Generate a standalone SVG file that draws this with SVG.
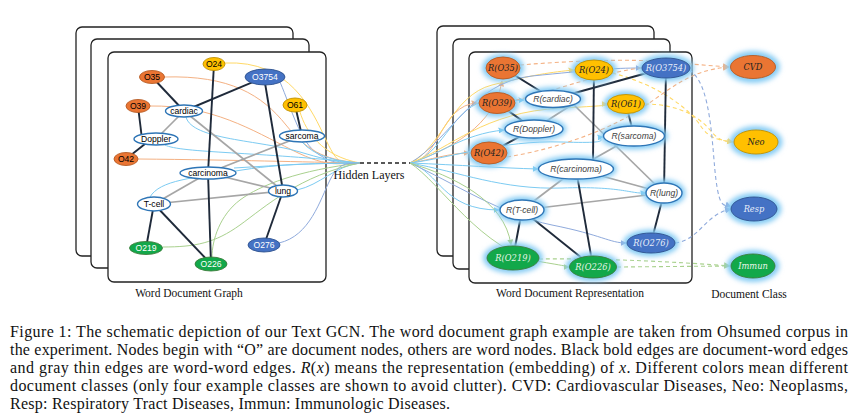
<svg xmlns="http://www.w3.org/2000/svg" width="862" height="419" viewBox="0 0 862 419">
<style>
.panel{fill:#fff;stroke:#222;stroke-width:1.3}
.lbl{font-family:"Liberation Serif","Times New Roman",serif;font-size:11.5px;fill:#111;text-anchor:middle}
.cap{font-family:"Liberation Serif","Times New Roman",serif;font-size:16px;fill:#111}
.t{font-family:"Liberation Sans",Arial,sans-serif;font-size:8.6px;text-anchor:middle;dominant-baseline:central}
.ti{font-family:"DejaVu Serif",serif;font-style:italic;font-size:8.3px;text-anchor:middle;dominant-baseline:central}
.tw{font-family:"Liberation Sans",Arial,sans-serif;font-style:italic;font-size:8.6px;text-anchor:middle;dominant-baseline:central;fill:#404040}
.or{fill:#ea7533;stroke:#b55a22;stroke-width:0.9}
.ye{fill:#ffc000;stroke:#bf9000;stroke-width:0.9}
.bl{fill:#4472c4;stroke:#2f528f;stroke-width:0.9}
.gr{fill:#12a84a;stroke:#3c7d3a;stroke-width:0.9}
.wd{fill:#fff;stroke:#2e75b6;stroke-width:1.4}
.gl{fill:#86ccf4;filter:url(#glow)}
.be{stroke:#1f2a3a;stroke-width:1.9;fill:none}
.ge{stroke:#a6a6a6;stroke-width:1.7;fill:none}
.c{fill:none;stroke-width:1}
.co{stroke:#f4b183}.cy{stroke:#ffd966}.cb{stroke:#8faadc}.cc{stroke:#7ccbf2}.cg{stroke:#a9d18e}
.d{fill:none;stroke-width:1.1;stroke-dasharray:4 3}
</style>
<defs>
<filter id="glow" x="-50%" y="-80%" width="200%" height="260%"><feGaussianBlur stdDeviation="2.4"/></filter>
<marker id="mo" viewBox="0 0 10 10" refX="9" refY="5" markerWidth="6" markerHeight="6" orient="auto"><path d="M0,0L10,5L0,10z" fill="#f4b183"/></marker>
<marker id="my" viewBox="0 0 10 10" refX="9" refY="5" markerWidth="6" markerHeight="6" orient="auto"><path d="M0,0L10,5L0,10z" fill="#ffd966"/></marker>
<marker id="mb" viewBox="0 0 10 10" refX="9" refY="5" markerWidth="6" markerHeight="6" orient="auto"><path d="M0,0L10,5L0,10z" fill="#8faadc"/></marker>
<marker id="mc" viewBox="0 0 10 10" refX="9" refY="5" markerWidth="6" markerHeight="6" orient="auto"><path d="M0,0L10,5L0,10z" fill="#7ccbf2"/></marker>
<marker id="mg" viewBox="0 0 10 10" refX="9" refY="5" markerWidth="6" markerHeight="6" orient="auto"><path d="M0,0L10,5L0,10z" fill="#a9d18e"/></marker>
</defs>
<rect width="862" height="419" fill="#fff"/>

<g id="panels">
<rect class="panel" x="76" y="27" width="217" height="229" rx="6"/>
<rect class="panel" x="91" y="39" width="218" height="229" rx="6"/>
<rect class="panel" x="108" y="52" width="218" height="230" rx="6"/>
<rect class="panel" x="437" y="26" width="217" height="230" rx="6"/>
<rect class="panel" x="453" y="39" width="217" height="230" rx="6"/>
<rect class="panel" x="469" y="52" width="223" height="231" rx="6"/>
</g>

<g id="connectors">
<path class="c cy" d="M225,63 C290,60 312,110 326,140 S345,163 360,163"/>
<path class="c cy" d="M300,112 C306,132 322,156 360,163"/>
<path class="c cb" d="M280,82 C292,110 300,142 318,154 S345,163 360,163"/>
<path class="c co" d="M164,77 C230,75 262,95 286,125 S330,160 360,163"/>
<path class="c co" d="M150,106 C212,105 252,130 292,150 S340,162 360,163"/>
<path class="c co" d="M138,159 C240,160 300,162 360,163"/>
<path class="c cc" d="M186,117 C192,140 260,140 300,152 S345,162 360,163"/>
<path class="c cc" d="M165,145 C180,153 262,152 360,163"/>
<path class="c cc" d="M302,142 C314,156 338,162 360,163"/>
<path class="c cc" d="M234,168 C282,165 320,163 360,163"/>
<path class="c cc" d="M150,197 C160,180 192,178 242,170 S330,164 360,163"/>
<path class="c cc" d="M297,190 C320,185 335,166 360,163"/>
<path class="c cg" d="M163,247 C195,247 215,243 240,225 S300,175 360,163"/>
<path class="c cg" d="M212,257 C212,240 220,215 240,200 S300,170 360,163"/>
<path class="c cb" d="M279,243 C310,236 320,200 330,180 S350,164 360,163"/>
<path d="M360,163 L410,163" stroke="#222" stroke-width="1.3" stroke-dasharray="4 3" fill="none"/>
<path class="c co" d="M410,163 C450,150 495,125 502,81" marker-end="url(#mo)"/>
<path class="c co" d="M410,163 C440,160 440,105 477,103" marker-end="url(#mo)"/>
<path class="c co" d="M410,163 C430,160 450,153 469,153" marker-end="url(#mo)"/>
<path class="c cc" d="M410,163 C440,158 452,110 482,102 L524,100" marker-end="url(#mc)"/>
<path class="c cy" d="M410,163 C440,150 452,95 492,85 S552,72 574,70" marker-end="url(#my)"/>
<path class="c cc" d="M410,163 C440,155 462,134 504,130" marker-end="url(#mc)"/>
<path class="c cb" d="M410,163 C450,140 472,82 532,76 S612,68 641,68" marker-end="url(#mb)"/>
<path class="c cy" d="M410,163 C452,148 482,112 562,108 S596,104 607,104" marker-end="url(#my)"/>
<path class="c cc" d="M410,163 C450,158 502,140 562,142 S592,138 603,137" marker-end="url(#mc)"/>
<path class="c cc" d="M410,163 C460,165 500,168 538,169" marker-end="url(#mc)"/>
<path class="c cc" d="M410,163 C460,172 502,190 562,188 S630,194 646,193" marker-end="url(#mc)"/>
<path class="c cc" d="M410,163 C440,172 442,210 499,210" marker-end="url(#mc)"/>
<path class="c cb" d="M410,163 C452,182 502,215 552,225 S610,243 626,243" marker-end="url(#mb)"/>
<path class="c cg" d="M410,163 C452,176 505,200 511,245" marker-end="url(#mg)"/>
<path class="c cg" d="M410,163 C440,182 482,252 542,262 S560,267 569,267" marker-end="url(#mg)"/>
<path class="d co" d="M520,65 C580,60 650,58 690,64 L729,67" marker-end="url(#mo)"/>
<path class="d co" d="M516,100 C562,90 622,62 690,65"/>
<path class="d co" d="M507,157 C562,148 612,128 642,108 S690,70 729,67" marker-end="url(#mo)"/>
<path class="d cy" d="M612,73 C660,85 690,110 700,125 S720,140 733,142" marker-end="url(#my)"/>
<path class="d cy" d="M645,104 C680,104 700,118 710,130 S725,141 733,142"/>
<path class="d cb" d="M689,70 C712,82 712,150 716,180 S724,204 731,207" marker-end="url(#mb)"/>
<path class="d cb" d="M675,243 C700,240 705,214 731,209" marker-end="url(#mb)"/>
<path class="d cg" d="M539,259 C600,258 680,262 730,266" marker-end="url(#mg)"/>
<path class="d cg" d="M617,267 L730,266"/>
<line class="ge" x1="184" y1="111" x2="156" y2="139"/>
<line class="ge" x1="184" y1="111" x2="283" y2="191"/>
<line class="ge" x1="302" y1="136" x2="208" y2="173"/>
<line class="ge" x1="208" y1="173" x2="283" y2="191"/>
<line class="ge" x1="208" y1="173" x2="154" y2="204"/>
<line class="ge" x1="154" y1="204" x2="283" y2="191"/>
<line class="be" x1="152" y1="77" x2="184" y2="111"/>
<line class="be" x1="265" y1="77" x2="184" y2="111"/>
<line class="be" x1="138" y1="106" x2="142" y2="139"/>
<line class="be" x1="150" y1="140" x2="126" y2="159"/>
<line class="be" x1="214" y1="64" x2="208" y2="173"/>
<line class="be" x1="208" y1="173" x2="211" y2="264"/>
<line class="be" x1="264" y1="77" x2="283" y2="191"/>
<line class="be" x1="295" y1="105" x2="302" y2="136"/>
<line class="be" x1="283" y1="191" x2="264" y2="245"/>
<line class="be" x1="154" y1="204" x2="146" y2="248"/>
<line class="be" x1="154" y1="204" x2="211" y2="264"/>
<line class="ge" x1="573" y1="104" x2="534" y2="129"/>
<line class="ge" x1="573" y1="104" x2="664" y2="193"/>
<line class="ge" x1="634" y1="136" x2="576" y2="169"/>
<line class="ge" x1="576" y1="169" x2="664" y2="193"/>
<line class="ge" x1="576" y1="169" x2="522" y2="210"/>
<line class="ge" x1="522" y1="210" x2="664" y2="193"/>
<line class="be" x1="503" y1="68" x2="553" y2="99"/>
<line class="be" x1="665" y1="68" x2="553" y2="99"/>
<line class="be" x1="497" y1="103" x2="534" y2="129"/>
<line class="be" x1="534" y1="129" x2="489" y2="153"/>
<line class="be" x1="594" y1="70" x2="593" y2="161"/>
<line class="be" x1="576" y1="169" x2="593" y2="267"/>
<line class="be" x1="666" y1="68" x2="664" y2="193"/>
<line class="be" x1="626" y1="104" x2="634" y2="136"/>
<line class="be" x1="664" y1="193" x2="651" y2="243"/>
<line class="be" x1="522" y1="210" x2="513" y2="258"/>
<line class="be" x1="522" y1="210" x2="593" y2="267"/>
</g>

<g id="O24"><ellipse class="ye" cx="214" cy="64" rx="11" ry="6.5"/><text class="t" x="214" y="64">O24</text></g>
<g id="O35"><ellipse class="or" cx="152" cy="77" rx="12.5" ry="6.5"/><text class="t" x="152" y="77">O35</text></g>
<g id="O3754"><ellipse class="bl" cx="265" cy="77" rx="20" ry="8"/><text class="t" x="265" y="77" fill="#fff">O3754</text></g>
<g id="O39"><ellipse class="or" cx="138" cy="106" rx="12" ry="6.5"/><text class="t" x="138" y="106">O39</text></g>
<g id="cardiac"><ellipse class="wd" cx="184" cy="111" rx="18.5" ry="6"/><text class="t" x="184" y="111">cardiac</text></g>
<g id="O61"><ellipse class="ye" cx="295" cy="105" rx="12" ry="7"/><text class="t" x="295" y="105">O61</text></g>
<g id="Doppler"><ellipse class="wd" cx="156" cy="139" rx="22" ry="6"/><text class="t" x="156" y="139">Doppler</text></g>
<g id="sarcoma"><ellipse class="wd" cx="302" cy="136" rx="22.5" ry="6"/><text class="t" x="302" y="136">sarcoma</text></g>
<g id="O42"><ellipse class="or" cx="126" cy="159" rx="12" ry="6.5"/><text class="t" x="126" y="159">O42</text></g>
<g id="carcinoma"><ellipse class="wd" cx="208" cy="173" rx="28" ry="6"/><text class="t" x="208" y="173">carcinoma</text></g>
<g id="lung"><ellipse class="wd" cx="283" cy="191" rx="14.5" ry="6"/><text class="t" x="283" y="191">lung</text></g>
<g id="T-cell"><ellipse class="wd" cx="154" cy="204" rx="16.5" ry="7"/><text class="t" x="154" y="204">T-cell</text></g>
<g id="O219"><ellipse class="gr" cx="146" cy="248" rx="16.5" ry="6.5"/><text class="t" x="146" y="248" fill="#fff">O219</text></g>
<g id="O276"><ellipse class="bl" cx="264" cy="245" rx="16" ry="7"/><text class="t" x="264" y="245" fill="#fff">O276</text></g>
<g id="O226"><ellipse class="gr" cx="211" cy="264" rx="16" ry="7"/><text class="t" x="211" y="264" fill="#fff">O226</text></g>

<g id="R-O35"><ellipse class="gl" cx="503" cy="68" rx="21" ry="14"/><ellipse class="or" cx="503" cy="68" rx="17" ry="11"/><text class="ti" x="503" y="68" fill="#222">R(O35)</text></g>
<g id="R-O39"><ellipse class="gl" cx="497" cy="103" rx="22" ry="14"/><ellipse class="or" cx="497" cy="103" rx="18" ry="10.5"/><text class="ti" x="497" y="103" fill="#222">R(O39)</text></g>
<g id="R-O42"><ellipse class="gl" cx="489" cy="153" rx="22" ry="14.5"/><ellipse class="or" cx="489" cy="153" rx="18" ry="11"/><text class="ti" x="489" y="153" fill="#222">R(O42)</text></g>
<g id="R-cardiac"><ellipse class="gl" cx="553" cy="99" rx="31" ry="12"/><ellipse class="wd" cx="553" cy="99" rx="27.5" ry="8.5"/><text class="tw" x="553" y="99">R(cardiac)</text></g>
<g id="R-Doppler"><ellipse class="gl" cx="534" cy="129" rx="32.5" ry="12.5"/><ellipse class="wd" cx="534" cy="129" rx="29" ry="9"/><text class="tw" x="534" y="129">R(Doppler)</text></g>
<g id="R-O24"><ellipse class="gl" cx="594" cy="70" rx="23" ry="13.5"/><ellipse class="ye" cx="594" cy="70" rx="19" ry="10"/><text class="ti" x="594" y="70" fill="#222">R(O24)</text></g>
<g id="R-O3754"><ellipse class="gl" cx="666" cy="68" rx="28" ry="13.5"/><ellipse class="bl" cx="666" cy="68" rx="24" ry="10"/><text class="ti" x="666" y="68" fill="#e8eefa">R(O3754)</text></g>
<g id="R-O61"><ellipse class="gl" cx="626" cy="104" rx="22.5" ry="13"/><ellipse class="ye" cx="626" cy="104" rx="18.5" ry="9.5"/><text class="ti" x="626" y="104" fill="#222">R(O61)</text></g>
<g id="R-sarcoma"><ellipse class="gl" cx="634" cy="136" rx="34" ry="13.5"/><ellipse class="wd" cx="634" cy="136" rx="30.5" ry="10"/><text class="tw" x="634" y="136">R(sarcoma)</text></g>
<g id="R-carcinoma"><ellipse class="gl" cx="576" cy="169" rx="41" ry="13.5"/><ellipse class="wd" cx="576" cy="169" rx="37.5" ry="10"/><text class="tw" x="576" y="169">R(carcinoma)</text></g>
<g id="R-lung"><ellipse class="gl" cx="664" cy="193" rx="21.5" ry="13.5"/><ellipse class="wd" cx="664" cy="193" rx="18" ry="10"/><text class="tw" x="664" y="193">R(lung)</text></g>
<g id="R-T-cell"><ellipse class="gl" cx="522" cy="210" rx="25.5" ry="13.5"/><ellipse class="wd" cx="522" cy="210" rx="22" ry="10"/><text class="tw" x="522" y="210">R(T-cell)</text></g>
<g id="R-O276"><ellipse class="gl" cx="651" cy="243" rx="28" ry="13.5"/><ellipse class="bl" cx="651" cy="243" rx="24" ry="10"/><text class="ti" x="651" y="243" fill="#e8eefa">R(O276)</text></g>
<g id="R-O219"><ellipse class="gl" cx="513" cy="258" rx="30" ry="15.5"/><ellipse class="gr" cx="513" cy="258" rx="26" ry="12"/><text class="ti" x="513" y="258" fill="#e8f5e8">R(O219)</text></g>
<g id="R-O226"><ellipse class="gl" cx="593" cy="267" rx="27.5" ry="14.5"/><ellipse class="gr" cx="593" cy="267" rx="23.5" ry="11"/><text class="ti" x="593" y="267" fill="#e8f5e8">R(O226)</text></g>

<g id="CVD"><ellipse class="gl" cx="753" cy="67" rx="27" ry="16"/><ellipse class="or" cx="753" cy="67" rx="22.5" ry="11.5"/><text class="ti" x="753" y="67" fill="#222">CVD</text></g>
<g id="Neo"><ellipse class="gl" cx="756" cy="142" rx="26.5" ry="16"/><ellipse class="ye" cx="756" cy="142" rx="22" ry="12"/><text class="ti" x="756" y="142" fill="#222">Neo</text></g>
<g id="Resp"><ellipse class="gl" cx="754" cy="209" rx="27.5" ry="16"/><ellipse class="bl" cx="754" cy="209" rx="23" ry="12"/><text class="ti" x="754" y="209" fill="#e8eefa">Resp</text></g>
<g id="Immun"><ellipse class="gl" cx="753" cy="266" rx="26.5" ry="16"/><ellipse class="gr" cx="753" cy="266" rx="22" ry="12"/><text class="ti" x="753" y="266" fill="#e8f5e8">Immun</text></g>

<g id="labels">
<text class="lbl" x="189" y="297">Word Document Graph</text>
<text class="lbl" x="570" y="297">Word Document Representation</text>
<text class="lbl" x="749" y="298">Document Class</text>
<text class="lbl" x="369" y="179" style="font-size:12px">Hidden Layers</text>
</g>

<g id="caption">
<text class="cap" x="10" y="337" textLength="838" lengthAdjust="spacing">Figure 1: The schematic depiction of our Text GCN. The word document graph example are taken from Ohsumed corpus in</text>
<text class="cap" x="10" y="355" textLength="838" lengthAdjust="spacing">the experiment. Nodes begin with “O” are document nodes, others are word nodes. Black bold edges are document-word edges</text>
<text class="cap" x="10" y="373" textLength="838" lengthAdjust="spacing">and gray thin edges are word-word edges. <tspan font-style="italic">R</tspan>(<tspan font-style="italic">x</tspan>) means the representation (embedding) of <tspan font-style="italic">x</tspan>. Different colors mean different</text>
<text class="cap" x="10" y="391" textLength="838" lengthAdjust="spacing">document classes (only four example classes are shown to avoid clutter). CVD: Cardiovascular Diseases, Neo: Neoplasms,</text>
<text class="cap" x="10" y="409" textLength="440" lengthAdjust="spacing">Resp: Respiratory Tract Diseases, Immun: Immunologic Diseases.</text>
</g>
</svg>
